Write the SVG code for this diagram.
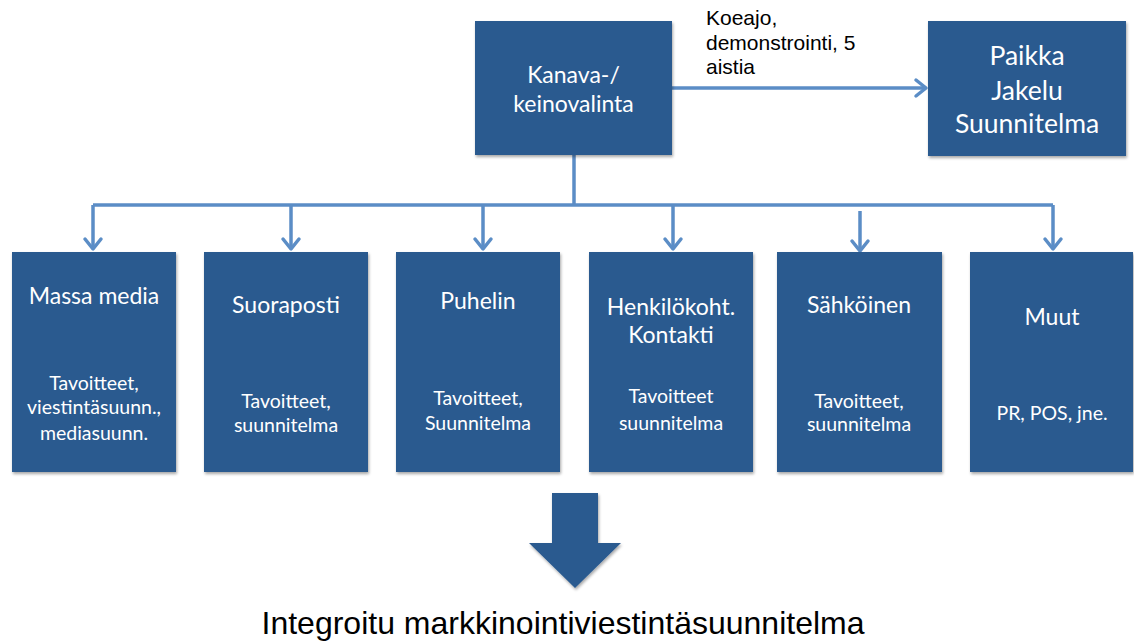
<svg xmlns="http://www.w3.org/2000/svg" width="1134" height="641" viewBox="0 0 1134 641">
<defs>
<style>
.box{fill:#2a5a8f;filter:url(#sh);}
.t{font-family:Lato,"Open Sans",sans-serif;fill:#ffffff;text-anchor:middle;}
.ti{font-size:23px;}
.su{font-size:19.5px;}
.big{font-size:23px;}
.conn{fill:none;stroke:#5b8dc6;stroke-width:3.5;}
.lbl{font-family:"Liberation Sans",Arial,sans-serif;fill:#000;}
</style>
<filter id="sh" x="-10%" y="-10%" width="130%" height="130%">
<feGaussianBlur in="SourceAlpha" stdDeviation="1.5"/>
<feOffset dx="1" dy="2" result="b"/>
<feComponentTransfer><feFuncA type="linear" slope="0.35"/></feComponentTransfer>
<feMerge><feMergeNode/><feMergeNode in="SourceGraphic"/></feMerge>
</filter>
<marker id="chev" markerUnits="userSpaceOnUse" markerWidth="30" markerHeight="30" refX="0" refY="0" orient="auto" overflow="visible">
<path d="M-10,-8 L0,0 L-10,8" fill="none" stroke="#5b8dc6" stroke-width="3.5" stroke-linecap="round" stroke-linejoin="round"/>
</marker>
</defs>
<rect width="1134" height="641" fill="#ffffff"/>

<g id="connectors">
<path class="conn" d="M672,88 H926" marker-end="url(#chev)"/>
<path class="conn" d="M574,155 V205"/>
<path class="conn" d="M93,205 H1053"/>
<path class="conn" d="M93,205 V249" marker-end="url(#chev)"/>
<path class="conn" d="M291,205 V249" marker-end="url(#chev)"/>
<path class="conn" d="M483,205 V249" marker-end="url(#chev)"/>
<path class="conn" d="M673,205 V249" marker-end="url(#chev)"/>
<path class="conn" d="M860,211 V251" marker-end="url(#chev)"/>
<path class="conn" d="M1053,205 V249" marker-end="url(#chev)"/>
</g>

<g id="label-koeajo">
<text class="lbl" font-size="21" x="706" y="25">Koeajo,</text>
<text class="lbl" font-size="21" x="706" y="50">demonstrointi, 5</text>
<text class="lbl" font-size="21" x="706" y="74">aistia</text>
</g>

<g id="kanava">
<rect class="box" x="475" y="21" width="197" height="134"/>
<text class="t big" x="573.5" y="83">Kanava-/</text>
<text class="t big" x="573.5" y="112">keinovalinta</text>
</g>

<g id="paikka">
<rect class="box" x="928" y="21" width="198" height="135"/>
<text class="t" font-size="26.5" x="1027" y="65">Paikka</text>
<text class="t" font-size="26.5" x="1027" y="100">Jakelu</text>
<text class="t" font-size="26.5" x="1027" y="133">Suunnitelma</text>
</g>

<g id="massa">
<rect class="box" x="12" y="252" width="164" height="220"/>
<text class="t ti" x="94" y="304">Massa media</text>
<text class="t su" x="94" y="390">Tavoitteet,</text>
<text class="t su" x="94" y="414">viestintäsuunn.,</text>
<text class="t su" x="94" y="440">mediasuunn.</text>
</g>

<g id="suoraposti">
<rect class="box" x="204" y="252" width="164" height="220"/>
<text class="t ti" x="286" y="313">Suoraposti</text>
<text class="t su" x="286" y="408">Tavoitteet,</text>
<text class="t su" x="286" y="432">suunnitelma</text>
</g>

<g id="puhelin">
<rect class="box" x="396" y="252" width="164" height="220"/>
<text class="t ti" x="478" y="309">Puhelin</text>
<text class="t su" x="478" y="405">Tavoitteet,</text>
<text class="t su" x="478" y="430">Suunnitelma</text>
</g>

<g id="henkilo">
<rect class="box" x="589" y="252" width="164" height="220"/>
<text class="t ti" x="671" y="315">Henkilökoht.</text>
<text class="t ti" x="671" y="343">Kontakti</text>
<text class="t su" x="671" y="403">Tavoitteet</text>
<text class="t su" x="671" y="430">suunnitelma</text>
</g>

<g id="sahkoinen">
<rect class="box" x="777" y="252" width="165" height="220"/>
<text class="t ti" x="859" y="313">Sähköinen</text>
<text class="t su" x="859" y="408">Tavoitteet,</text>
<text class="t su" x="859" y="431">suunnitelma</text>
</g>

<g id="muut">
<rect class="box" x="970" y="252" width="163" height="220"/>
<text class="t ti" x="1052" y="325">Muut</text>
<text class="t su" x="1052" y="420">PR, POS, jne.</text>
</g>

<g id="big-arrow">
<path d="M552,493 H598 V543 H621 L575,588 L529,543 H552 Z" fill="#2a5a8f" filter="url(#sh)"/>
</g>

<g id="result">
<text class="lbl" font-size="32" x="563" y="634" text-anchor="middle">Integroitu markkinointiviestintäsuunnitelma</text>
</g>
</svg>
